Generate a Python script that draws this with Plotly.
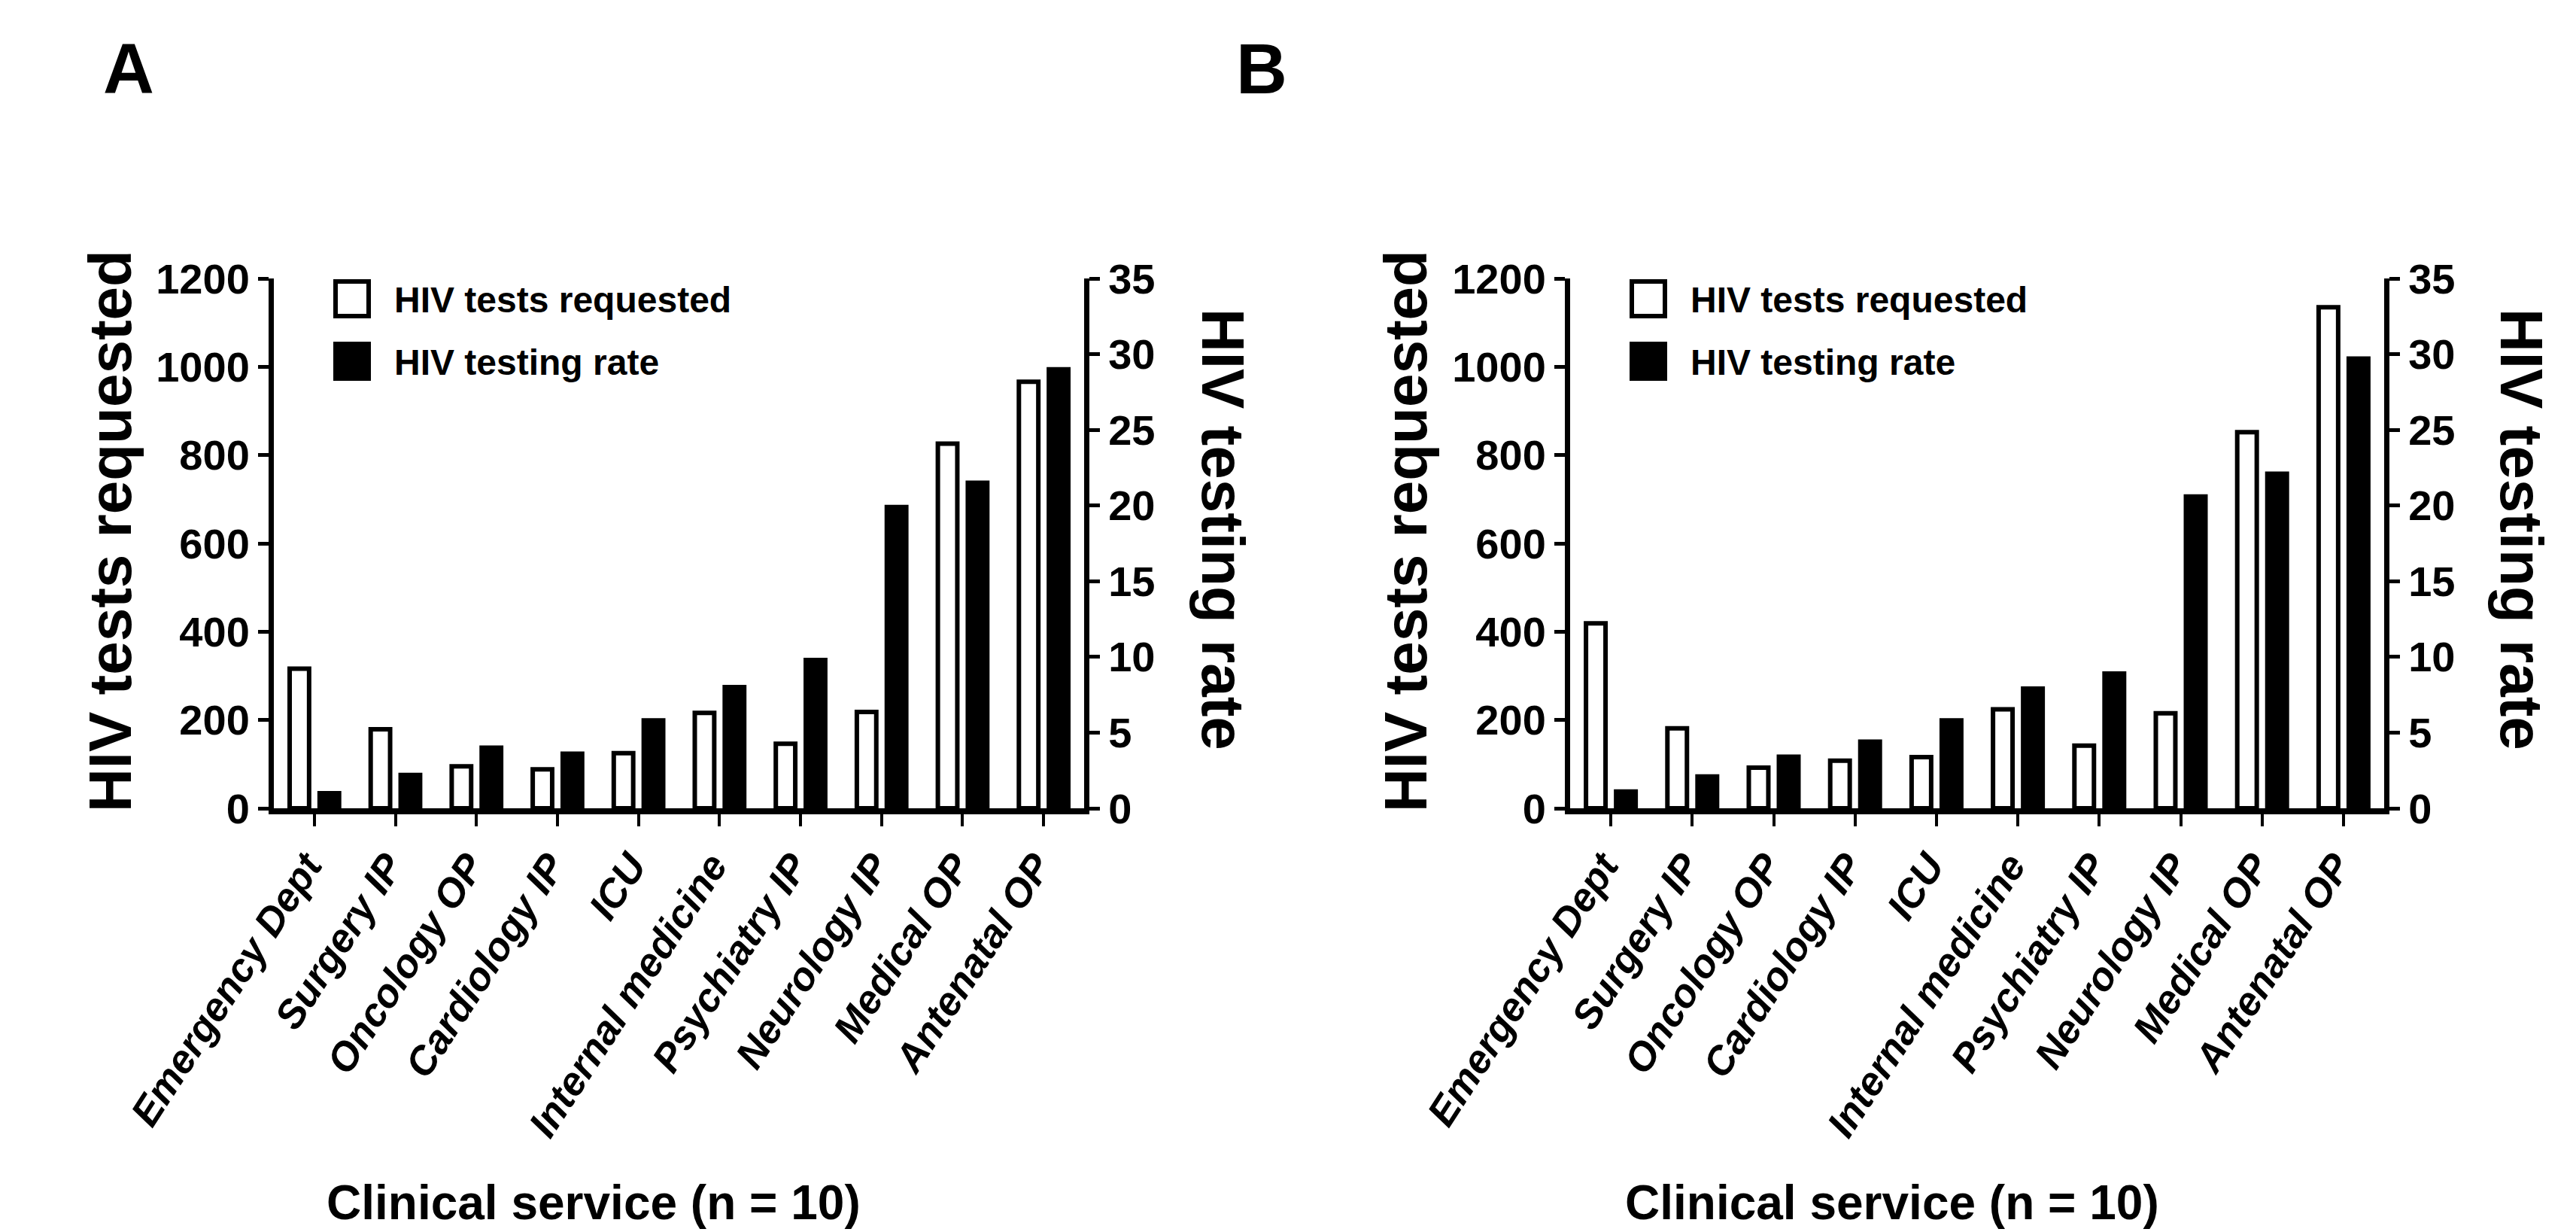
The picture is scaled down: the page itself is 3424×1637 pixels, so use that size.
import plotly.graph_objects as go

W, H = 3424, 1637

categories = ["Emergency Dept", "Surgery IP", "Oncology OP", "Cardiology IP", "ICU",
              "Internal medicine", "Psychiatry IP", "Neurology IP", "Medical OP", "Antenatal OP"]

requested_A = [316, 179, 95, 88, 125, 216, 146, 218, 826, 966]
rate_A = [1.0, 2.2, 4.0, 3.6, 5.8, 8.0, 9.8, 19.9, 21.5, 29.0]

requested_B = [419, 181, 92, 108, 116, 224, 142, 215, 852, 1135]
rate_B = [1.1, 2.1, 3.4, 4.4, 5.8, 7.9, 8.9, 20.6, 22.1, 29.7]

left_ticks = [0, 200, 400, 600, 800, 1000, 1200]
right_ticks = [0, 5, 10, 15, 20, 25, 30, 35]

legend_labels = ["HIV tests requested", "HIV testing rate"]
panel_labels = ["A", "B"]
left_title = "HIV tests requested"
right_title = "HIV testing rate"
x_title = "Clinical service (n = 10)"

ARIAL = "Liberation Sans, Arial, Helvetica, sans-serif"


def px(x):
    return x / W


def py(y):
    return 1 - y / H


Y_TOP, Y_BOT = 362, 1066
panels = [
    dict(x0=356, x1=1433, req=requested_A, rate=rate_A, xa="x", ya="y", ya2="y2", label=panel_labels[0],
         label_x=163, ltitle_x=138, rtitle_x=1617, xtitle_x=781),
    dict(x0=2079, x1=3161, req=requested_B, rate=rate_B, xa="x2", ya="y3", ya2="y4", label=panel_labels[1],
         label_x=1669, ltitle_x=1860, rtitle_x=3343, xtitle_x=2507),
]

fig = go.Figure()
shapes = []
annotations = []

BAR_W = 0.24
for p in panels:
    fig.add_trace(go.Bar(
        x=categories, y=p["req"], xaxis=p["xa"], yaxis=p["ya"],
        marker=dict(color="white", line=dict(color="black", width=6)),
        width=BAR_W, offset=-0.305, showlegend=False, name=legend_labels[0]))
    fig.add_trace(go.Bar(
        x=categories, y=p["rate"], xaxis=p["xa"], yaxis=p["ya2"],
        marker=dict(color="black", line=dict(color="black", width=6)),
        width=BAR_W, offset=0.065, showlegend=False, name=legend_labels[1]))

    # legend swatches and text
    lx = p["x0"] + 82
    for i, (fill, yc) in enumerate([("white", 389), ("black", 472)]):
        shapes.append(dict(type="rect", xref="paper", yref="paper",
                           x0=px(lx), x1=px(lx + 44), y0=py(yc - 23), y1=py(yc + 23),
                           fillcolor=fill, line=dict(color="black", width=6)))
        annotations.append(dict(xref="paper", yref="paper", x=px(lx + 76), y=py(yc + 1),
                                xanchor="left", yanchor="middle", showarrow=False,
                                text="<b>" + legend_labels[i] + "</b>",
                                font=dict(family=ARIAL, size=48, color="black")))
    # panel label
    annotations.append(dict(xref="paper", yref="paper", x=px(p["label_x"]), y=py(84),
                            xanchor="center", yanchor="middle", showarrow=False,
                            text="<b>" + p["label"] + "</b>",
                            font=dict(family=ARIAL, size=94, color="black")))
    # y titles
    annotations.append(dict(xref="paper", yref="paper", x=px(p["ltitle_x"]), y=py(698),
                            xanchor="center", yanchor="middle", showarrow=False,
                            text="<b>" + left_title + "</b>", textangle=-90,
                            font=dict(family=ARIAL, size=80, color="black")))
    annotations.append(dict(xref="paper", yref="paper", x=px(p["rtitle_x"]), y=py(695),
                            xanchor="center", yanchor="middle", showarrow=False,
                            text="<b>" + right_title + "</b>", textangle=90,
                            font=dict(family=ARIAL, size=80, color="black")))
    # x title
    annotations.append(dict(xref="paper", yref="paper", x=px(p["xtitle_x"]), y=py(1590),
                            xanchor="center", yanchor="middle", showarrow=False,
                            text="<b>" + x_title + "</b>",
                            font=dict(family=ARIAL, size=64, color="black")))

common_x = dict(type="category", categoryorder="array", categoryarray=categories,
                tickvals=categories, ticktext=["<b><i>" + c + "</i></b>" for c in categories],
                range=[-0.5, 9.5], showline=True, linewidth=8, linecolor="black",
                ticks="outside", ticklen=16, tickwidth=4, tickcolor="black",
                tickangle=-57, ticklabelshift=-10, showgrid=False, zeroline=False, automargin=False,
                tickfont=dict(family=ARIAL, size=53, color="black"))
common_yl = dict(range=[0, 1200], tickvals=left_ticks, ticktext=["<b>%d</b>" % v for v in left_ticks],
                 showline=True, linewidth=7, linecolor="black",
                 ticks="outside", ticklen=14, tickwidth=5, tickcolor="black", showgrid=False, zeroline=False,
                 automargin=False,
                 tickfont=dict(family=ARIAL, size=56, color="black"))
common_yr = dict(range=[0, 35], tickvals=right_ticks, ticktext=["<b>%d</b>" % v for v in right_ticks],
                 showline=True, linewidth=7, linecolor="black",
                 ticks="outside", ticklen=14, tickwidth=5, tickcolor="black", showgrid=False, zeroline=False,
                 side="right", automargin=False,
                 tickfont=dict(family=ARIAL, size=56, color="black"))

ydom = [py(Y_BOT), py(Y_TOP)]
fig.update_layout(
    width=W, height=H, autosize=False,
    margin=dict(l=0, r=0, t=0, b=0, pad=0, autoexpand=False),
    paper_bgcolor="white", plot_bgcolor="rgba(0,0,0,0)",
    barmode="overlay", showlegend=False,
    xaxis=dict(common_x, domain=[px(panels[0]["x0"]), px(panels[0]["x1"])], anchor="y"),
    yaxis=dict(common_yl, domain=ydom, anchor="x"),
    yaxis2=dict(common_yr, overlaying="y", anchor="x"),
    xaxis2=dict(common_x, domain=[px(panels[1]["x0"]), px(panels[1]["x1"])], anchor="y3"),
    yaxis3=dict(common_yl, domain=ydom, anchor="x2"),
    yaxis4=dict(common_yr, overlaying="y3", anchor="x2"),
    shapes=shapes, annotations=annotations,
)

fig.write_html("out.html")
